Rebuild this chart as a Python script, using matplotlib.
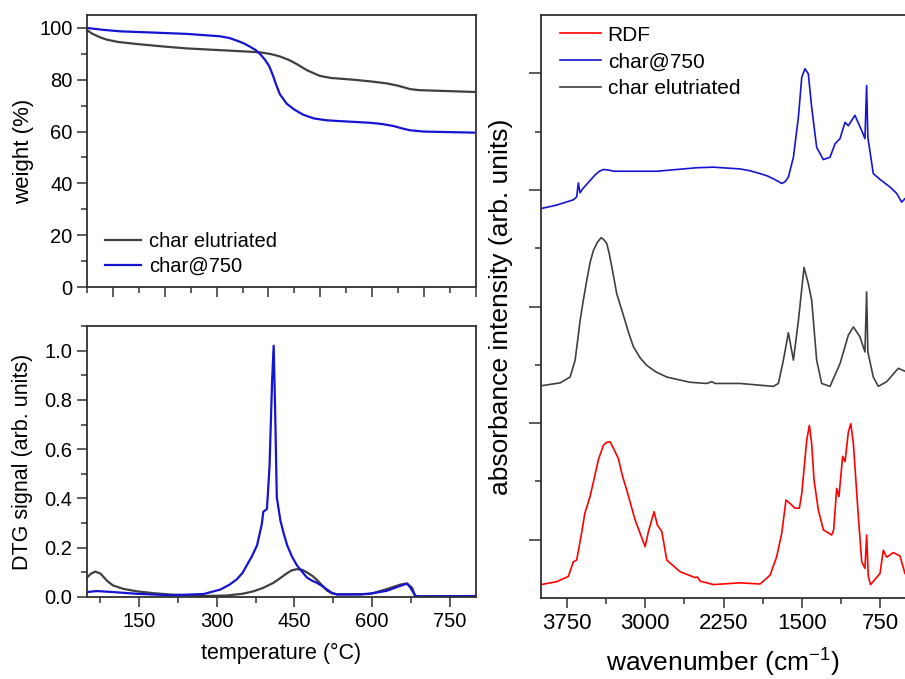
import matplotlib
matplotlib.use("Agg")
import matplotlib.pyplot as plt
from matplotlib.ticker import MultipleLocator

plt.rcParams['font.family'] = ['Liberation Sans', 'DejaVu Sans']
plt.rcParams['mathtext.fontset'] = 'custom'
plt.rcParams['mathtext.rm'] = 'Liberation Sans'
plt.rcParams['mathtext.it'] = 'Liberation Sans:italic'

BLUE = '#1414d2'
GREY = '#404040'
RED = '#ff0000'

# --- TGA: weight (%) vs temperature (°C)
tga_elut_T = [50, 60, 75, 88, 110, 146, 200, 243, 300, 339, 384, 405, 422, 440, 455, 475,
              499, 520, 565, 600, 628, 650, 673, 690, 796]
tga_elut_w = [99.2, 97.8, 96.4, 95.5, 94.6, 93.8, 92.8, 92.1, 91.5, 91.1, 90.6, 89.9, 89.0,
              87.6, 86.0, 83.6, 81.5, 80.7, 80.0, 79.3, 78.6, 77.7, 76.4, 76.0, 75.3]
tga_750_T = [50, 80, 114, 180, 243, 306, 325, 339, 352, 364, 375, 384, 393, 401, 405, 410,
             414, 422, 435, 449, 467, 487, 510, 532, 596, 620, 642, 660, 673, 700, 796]
tga_750_w = [100.0, 99.3, 98.7, 98.2, 97.7, 96.8, 96.1, 95.1, 94.1, 92.8, 91.5, 89.9, 87.8,
             85.4, 83.5, 80.9, 78.5, 74.4, 70.8, 68.6, 66.5, 65.1, 64.4, 64.1, 63.4, 62.9,
             62.1, 61.1, 60.5, 60.0, 59.6]

# --- DTG signal
dtg_750_T = [50, 69, 100, 146, 211, 275, 307, 325, 339, 350, 358, 368, 378, 387, 390, 397,
             402, 407, 410, 413, 416, 423, 429, 436, 445, 455, 474, 485, 493, 503, 513, 522,
             532, 577, 600, 628, 654, 667, 673, 683, 693, 800]
dtg_750_s = [0.02, 0.024, 0.02, 0.013, 0.007, 0.012, 0.03, 0.05, 0.072, 0.098, 0.128, 0.165,
             0.21, 0.294, 0.346, 0.357, 0.53, 0.88, 1.02, 0.74, 0.405, 0.31, 0.26, 0.21, 0.165,
             0.128, 0.079, 0.065, 0.058, 0.045, 0.03, 0.017, 0.01, 0.01, 0.015, 0.025, 0.045,
             0.054, 0.04, 0.005, 0.002, 0.004]
dtg_elut_T = [50, 58, 66, 76, 89, 100, 120, 146, 180, 211, 250, 275, 320, 350, 371, 390, 410,
              425, 436, 445, 455, 465, 474, 485, 493, 503, 513, 522, 532, 596, 628, 654, 667,
              677, 683, 800]
dtg_elut_s = [0.079, 0.095, 0.103, 0.095, 0.065, 0.047, 0.033, 0.023, 0.015, 0.01, 0.006,
              0.004, 0.006, 0.013, 0.023, 0.037, 0.058, 0.08, 0.097, 0.108, 0.113, 0.11, 0.1,
              0.085, 0.07, 0.048, 0.026, 0.015, 0.011, 0.012, 0.032, 0.05, 0.055, 0.037,
              0.003, 0.003]

# --- FTIR spectra (offset, arb. units)
ir_750_wn = [4000, 3849, 3690, 3658, 3642, 3626, 3600, 3560, 3530, 3480, 3440, 3402, 3350,
             3300, 3210, 2891, 2507, 2347, 2092, 2000, 1900, 1830, 1772, 1720, 1692, 1660,
             1628, 1580, 1532, 1500, 1469, 1437, 1405, 1357, 1293, 1229, 1181, 1133, 1085,
             1053, 990, 926, 894, 878, 866, 814, 750, 654, 590, 542, 510]
ir_750_a = [6.68, 6.74, 6.83, 6.88, 7.12, 6.95, 7.02, 7.10, 7.16, 7.26, 7.32, 7.35, 7.34,
            7.32, 7.32, 7.32, 7.38, 7.39, 7.36, 7.33, 7.28, 7.24, 7.19, 7.14, 7.11, 7.14,
            7.22, 7.56, 8.25, 8.93, 9.08, 8.99, 8.42, 7.73, 7.52, 7.56, 7.79, 7.88, 8.16,
            8.10, 8.28, 8.02, 7.88, 8.79, 7.90, 7.28, 7.18, 7.05, 6.94, 6.79, 6.85]
ir_elut_wn = [4000, 3817, 3721, 3673, 3650, 3625, 3595, 3561, 3530, 3498, 3460, 3424, 3400,
              3369, 3345, 3321, 3274, 3210, 3160, 3114, 3050, 2986, 2900, 2794, 2571, 2411,
              2363, 2330, 2092, 1772, 1724, 1676, 1628, 1580, 1532, 1478, 1437, 1405, 1357,
              1309, 1229, 1133, 1053, 1005, 942, 894, 878, 866, 814, 766, 686, 574, 510]
ir_elut_a = [3.64, 3.69, 3.79, 4.08, 4.40, 4.76, 5.10, 5.45, 5.75, 5.96, 6.10, 6.18, 6.15,
             6.08, 5.90, 5.68, 5.22, 4.85, 4.55, 4.31, 4.12, 3.99, 3.88, 3.79, 3.70, 3.68,
             3.71, 3.68, 3.68, 3.63, 3.68, 4.08, 4.55, 4.08, 4.76, 5.67, 5.39, 5.11, 4.08,
             3.68, 3.63, 4.02, 4.51, 4.65, 4.48, 4.22, 5.25, 4.22, 3.79, 3.63, 3.71, 3.94,
             3.89]
ir_rdf_wn = [4000, 3849, 3738, 3690, 3658, 3609, 3580, 3530, 3490, 3450, 3402, 3370, 3338,
             3306, 3258, 3220, 3178, 3098, 3002, 2970, 2916, 2884, 2842, 2794, 2666, 2523,
             2500, 2475, 2347, 2092, 1900, 1804, 1740, 1692, 1651, 1612, 1564, 1523, 1500,
             1452, 1427, 1405, 1382, 1341, 1293, 1213, 1194, 1165, 1143, 1108, 1085, 1053,
             1030, 1005, 957, 925, 894, 878, 862, 840, 750, 718, 686, 622, 558, 510]
ir_rdf_a = [0.23, 0.28, 0.37, 0.62, 0.65, 1.13, 1.45, 1.74, 2.05, 2.37, 2.62, 2.67, 2.68,
            2.57, 2.39, 2.10, 1.85, 1.34, 0.88, 1.14, 1.48, 1.25, 1.14, 0.65, 0.45, 0.35,
            0.36, 0.29, 0.23, 0.26, 0.24, 0.39, 0.71, 1.11, 1.68, 1.62, 1.54, 1.54, 1.79,
            2.71, 2.96, 2.65, 2.02, 1.51, 1.17, 1.08, 1.17, 1.88, 1.74, 2.43, 2.34, 2.85,
            2.99, 2.65, 1.39, 0.62, 0.51, 1.08, 0.37, 0.23, 0.42, 0.82, 0.70, 0.78, 0.72,
            0.42]

fig = plt.figure(figsize=(9.05, 6.79), dpi=100)
ax_w = fig.add_axes([0.0961, 0.5773, 0.4298, 0.4006])
ax_d = fig.add_axes([0.0961, 0.1208, 0.4298, 0.3991])
ax_ir = fig.add_axes([0.5978, 0.1193, 0.4022, 0.8586])

tick_kw = dict(direction='out', width=1.1, color='#303030')

for ax in (ax_w, ax_d, ax_ir):
    for sp in ax.spines.values():
        sp.set_linewidth(1.3)
        sp.set_color('#303030')
    ax.tick_params(which='major', length=7, **tick_kw)
    ax.tick_params(which='minor', length=4, **tick_kw)

# weight panel
ax_w.plot(tga_elut_T, tga_elut_w, color=GREY, lw=1.6, label='char elutriated')
ax_w.plot(tga_750_T, tga_750_w, color=BLUE, lw=1.6, label='char@750')
ax_w.set_xlim(50, 800)
ax_w.set_ylim(0, 105)
ax_w.xaxis.set_major_locator(MultipleLocator(100))
ax_w.xaxis.set_minor_locator(MultipleLocator(50))
ax_w.yaxis.set_major_locator(MultipleLocator(20))
ax_w.yaxis.set_minor_locator(MultipleLocator(10))
ax_w.tick_params(axis='x', labelbottom=False)
ax_w.tick_params(axis='y', labelsize=14.5)
ax_w.set_ylabel('weight (%)', fontsize=16)
ax_w.yaxis.set_label_coords(-0.135, 0.5)
ax_w.legend(loc='lower left', bbox_to_anchor=(0.0, -0.027), frameon=False,
            fontsize=14.5, handlelength=1.8, handletextpad=0.4, labelspacing=0.3)

# DTG panel
ax_d.plot(dtg_elut_T, dtg_elut_s, color=GREY, lw=1.6)
ax_d.plot(dtg_750_T, dtg_750_s, color=BLUE, lw=1.6)
ax_d.set_xlim(50, 800)
ax_d.set_ylim(0, 1.1)
ax_d.set_xticks([150, 300, 450, 600, 750])
ax_d.xaxis.set_minor_locator(MultipleLocator(75))
ax_d.yaxis.set_major_locator(MultipleLocator(0.2))
ax_d.yaxis.set_minor_locator(MultipleLocator(0.1))
ax_d.tick_params(labelsize=14.5)
ax_d.set_yticklabels(['%.1f' % v for v in ax_d.get_yticks()])
ax_d.set_xlabel('temperature (°C)', fontsize=15.5, labelpad=9)
ax_d.set_ylabel('DTG signal (arb. units)', fontsize=15.5)
ax_d.yaxis.set_label_coords(-0.138, 0.5)

# FTIR panel
ax_ir.plot(ir_rdf_wn, ir_rdf_a, color=RED, lw=1.2, label='RDF')
ax_ir.plot(ir_750_wn, ir_750_a, color=BLUE, lw=1.2, label='char@750')
ax_ir.plot(ir_elut_wn, ir_elut_a, color=GREY, lw=1.2, label='char elutriated')
ax_ir.set_xlim(4000, 510)
ax_ir.set_ylim(0, 10)
ax_ir.set_xticks([3750, 3000, 2250, 1500, 750])
ax_ir.xaxis.set_minor_locator(MultipleLocator(375))
ax_ir.set_yticks([1, 3, 5, 7, 9])
ax_ir.set_yticks([2, 4, 6, 8], minor=True)
ax_ir.tick_params(axis='y', which='major', length=9)
ax_ir.tick_params(axis='y', labelleft=False)
ax_ir.tick_params(axis='x', labelsize=16)
ax_ir.spines['right'].set_visible(False)
ax_ir.set_xlabel(r'wavenumber $\mathit{(}$cm$^{-1}\mathit{)}$', fontsize=19)
ax_ir.xaxis.set_label_coords(0.5, -0.084)
ax_ir.set_ylabel('absorbance intensity (arb. units)', fontsize=19)
ax_ir.yaxis.set_label_coords(-0.077, 0.5)
ax_ir.legend(loc='upper left', bbox_to_anchor=(0.0, 1.014), frameon=False,
             fontsize=15, handlelength=2.0, handletextpad=0.3, labelspacing=0.37)

fig.savefig('out.png', dpi=100)
